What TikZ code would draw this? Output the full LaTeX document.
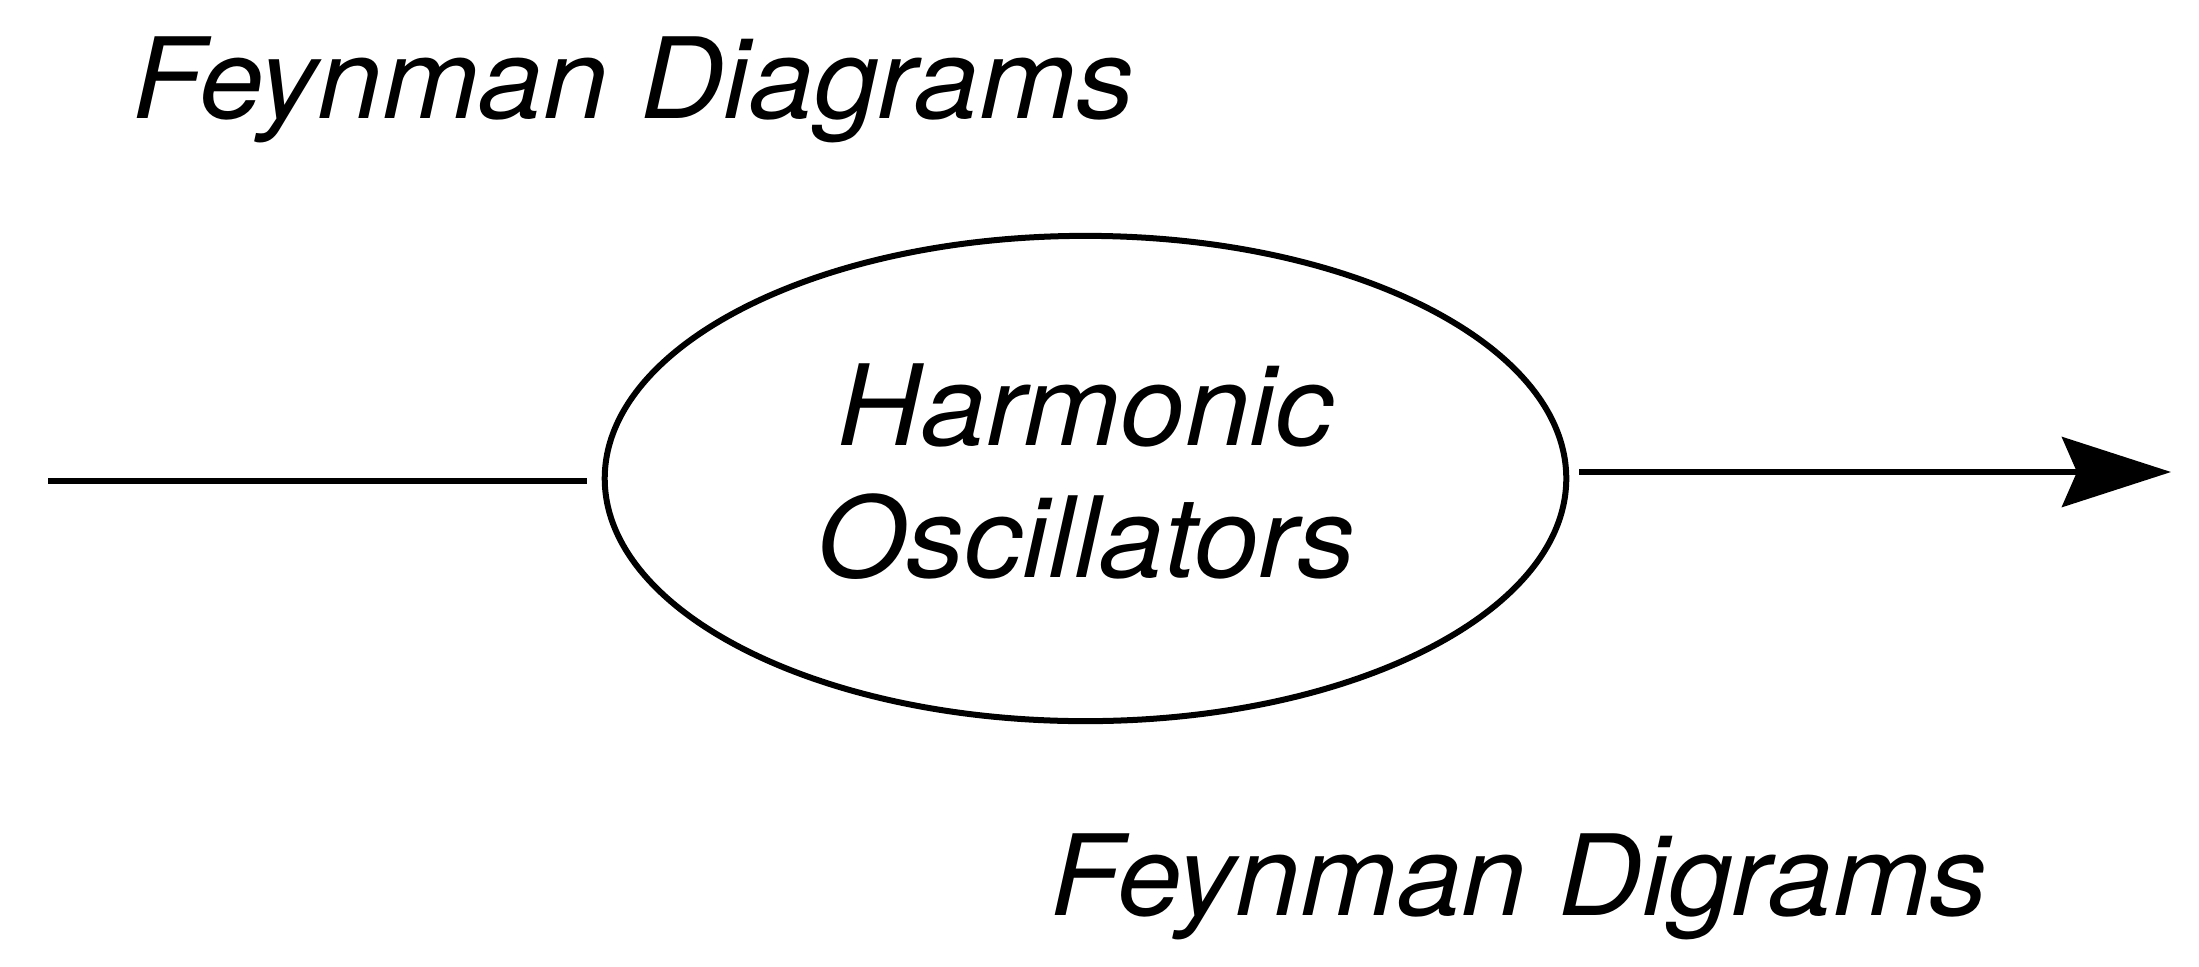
\documentclass[tikz,border=0pt]{standalone}
\usepackage{fontspec}
\usepackage{graphicx}
\setmainfont{TeX Gyre Heros}
\usetikzlibrary{shapes.geometric,arrows.meta}
\newcommand{\wide}[1]{\scalebox{1.035}[1]{#1}}
\tikzset{
  lbl/.style={inner sep=0pt, font=\fontsize{31.9pt}{37.56pt}\selectfont\itshape},
  conn/.style={line width=0.055cm, draw=black},
  oscbox/.style={ellipse, draw=black, line width=0.06cm, inner sep=0pt,
    minimum width=9.61cm, minimum height=4.85cm, align=center,
    font=\fontsize{31.9pt}{37.56pt}\selectfont\itshape}
}
\begin{document}
\begin{tikzpicture}[x=0.01cm,y=-0.01cm]
\useasboundingbox (0,0) rectangle (2199,966);
\node[lbl, anchor=base] (top) at (633,118) {\wide{Feynman Diagrams}};
\node[lbl, anchor=base] (bot) at (1519,915) {\wide{Feynman Digrams}};
\node[oscbox] (osc) at (1085.5,478.5) {\wide{Harmonic}\\\wide{Oscillators}\rule[-0.15cm]{0pt}{0.1cm}};
\coordinate (lstart) at (48,481);
\coordinate (rend) at (2171,472);
\draw[conn] (lstart) -- ([xshift=-0.15cm]lstart -| osc.west);
\draw[conn, -{Stealth[length=1.09cm, width=0.70cm, inset=0.15cm]}] ([xshift=0.10cm]rend -| osc.east) -- (rend);
\end{tikzpicture}
\end{document}
